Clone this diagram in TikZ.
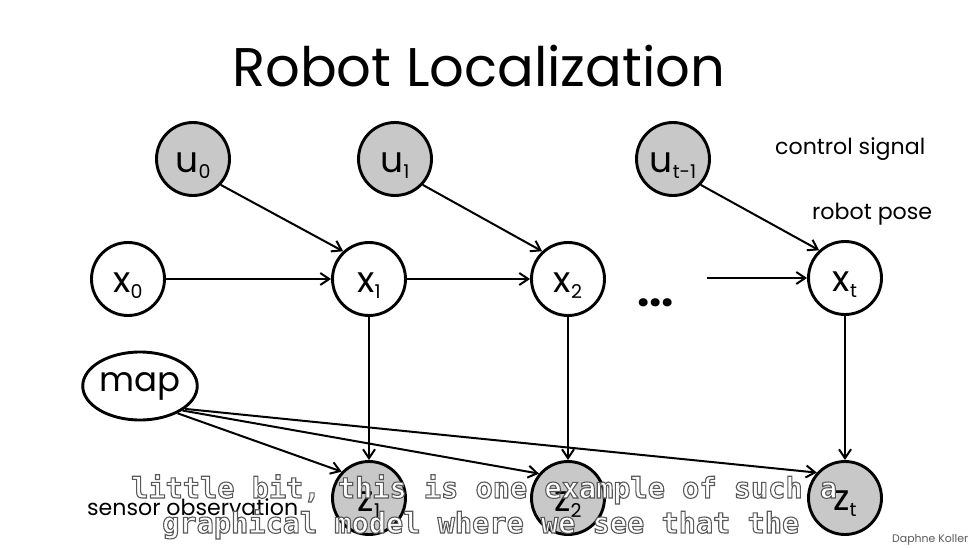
\documentclass[tikz,border=0pt]{standalone}
\usepackage{fontspec}
\usepackage{graphicx}
\setmainfont{Poppins}
\newfontfamily\subfont{DejaVu Sans Mono}
\usetikzlibrary{arrows.meta,shapes.geometric}
\definecolor{obsgray}{RGB}{200,200,200}
\definecolor{credgray}{RGB}{90,90,90}
\newcommand\fitw[2]{\resizebox{#1}{!}{#2}}
% letter, subscript, baseline offset below centre
\newcommand\vlab[3]{\smash{\raisebox{-#3}{{\fontsize{36}{36}\selectfont #1}\raisebox{-6pt}{\fontsize{19}{19}\selectfont #2}}}}
\newcommand\outl[1]{{\color{white}\special{pdf:literal direct 2 Tr 1.1 w 0.35 G}#1\special{pdf:literal direct 0 Tr}}}
\tikzset{
  var/.style={circle,draw,line width=2.9pt,minimum size=73pt,inner sep=0pt,fill=white},
  obs/.style={var,fill=obsgray},
  edge/.style={line width=2pt,-{Straight Barb[length=9pt,width=12pt,line width=2pt]}},
  lbl/.style={inner sep=0pt,anchor=base west},
  subt/.style={inner sep=0pt,anchor=base west,font=\subfont\bfseries\fontsize{28.6}{30}\selectfont},
}
\begin{document}
\begin{tikzpicture}[x=1pt,y=-1pt]
\useasboundingbox[fill=white] (0,0) rectangle (974,548);
\node[lbl] (title) at (232,87) {\fitw{493pt}{Robot Localization}};

\node[obs] (u0) at (193,159) {\vlab{u}{0}{14pt}};
\node[obs] (u1) at (395,159) {\vlab{u}{1}{14pt}};
\node[obs] (ut) at (673,159) {\vlab{u}{t-1}{14pt}};

\node[var] (x0) at (128,279) {\vlab{x}{0}{13pt}};
\node[var] (x1) at (369,279) {\vlab{x}{1}{13pt}};
\node[var] (x2) at (568,279) {\vlab{x}{2}{13pt}};
\node[var] (xt) at (845,278) {\vlab{x}{t}{13pt}};

\node[ellipse,draw,line width=2.9pt,minimum width=103pt,minimum height=68pt,inner sep=0pt,font=\fontsize{34}{34}\selectfont] (map) at (140,386) {map};

\node[obs] (z1) at (369,498) {\vlab{z}{1}{13pt}};
\node[obs] (z2) at (568,498) {\vlab{z}{2}{13pt}};
\node[obs] (zt) at (845,498) {\vlab{z}{t}{12pt}};

\node[lbl] (dots) at (637,306) {\fitw{37pt}{\bfseries ...}};
\coordinate (dotsend) at (707,278);

\node[lbl] (ctrl) at (775,155) {\fitw{150pt}{control signal}};
\node[lbl] (pose) at (812,220) {\fitw{120pt}{robot pose}};
\node[lbl] (sens) at (87,515) {\fitw{211pt}{sensor observation}};
\node[lbl,text=credgray] (cred) at (892,542) {\fitw{76pt}{Daphne Koller}};

\draw[edge] (x0) -- (x1);
\draw[edge] (x1) -- (x2);
\draw[edge] (dotsend) -- (xt);
\draw[edge] (u0.-43) -- (x1.133);
\draw[edge] (u1.-43) -- (x2.133);
\draw[edge] (ut.-43) -- (xt.133);
\draw[edge] (x1) -- (z1);
\draw[edge] (x2) -- (z2);
\draw[edge] (xt) -- (zt);
\draw[edge] (map.-36) -- (z1.136);
\draw[edge] (map.-30) -- (z2.140);
\draw[edge] (map.-27) -- (zt.138);

\node[subt] (cap1) at (131,498) {\outl{little bit, this is one example of such a}};
\node[subt] (cap2) at (162,533) {\outl{graphical model where we see that the}};
\end{tikzpicture}
\end{document}
